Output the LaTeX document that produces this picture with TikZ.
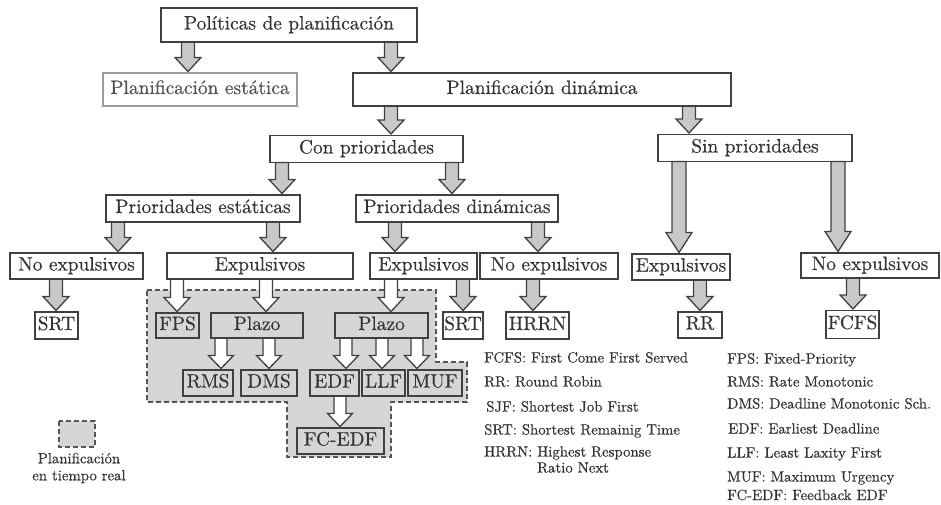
\documentclass[tikz,border=0pt]{standalone}
\usepackage{fontspec}
\setmainfont{lmroman10-regular}[Extension=.otf, Ligatures=TeX, FakeBold=0.4]
\usetikzlibrary{calc,backgrounds}

\definecolor{ink}{HTML}{333333}
\definecolor{edge}{HTML}{404040}
\definecolor{softedge}{HTML}{9C9C9C}
\definecolor{arrowfill}{HTML}{C8C8C8}
\definecolor{rtfill}{HTML}{D6D6D6}
\definecolor{dashedge}{HTML}{555555}

\newcommand\boxfont{\fontsize{19.4}{22}\selectfont\bfseries}
\newcommand\notefont{\fontsize{14.8}{17}\selectfont\bfseries}

\newdimen\headlen \headlen=14pt
\newdimen\shafthalf \shafthalf=6.5pt
\newdimen\headhalf \headhalf=13pt

% block arrow: #1 style, #2 x position, #3 source node, #4 target node
\newcommand\flowarrow[4]{%
  \draw[#1] let \p1=(#3.south), \p2=(#4.north) in
    ({#2pt-\shafthalf},\y1) -- ({#2pt-\shafthalf},{\y2+1.5pt+\headlen})
    -- ({#2pt-\headhalf},{\y2+1.5pt+\headlen}) -- ({#2pt},{\y2+1.5pt})
    -- ({#2pt+\headhalf},{\y2+1.5pt+\headlen}) -- ({#2pt+\shafthalf},{\y2+1.5pt+\headlen})
    -- ({#2pt+\shafthalf},\y1) -- cycle;}

\tikzset{
  box/.style={draw=edge, line width=1.5pt, text=ink, font=\boxfont,
    inner sep=0pt, outer sep=0pt, text height=13pt, text depth=4pt},
  softbox/.style={box, draw=softedge, line width=1.2pt, text=ink!85},
  rtbox/.style={box, line width=2.2pt},
  grayarrow/.style={draw=edge, line width=1.3pt, line join=miter, fill=arrowfill},
  whitearrow/.style={grayarrow, fill=white},
  rtzone/.style={fill=rtfill, draw=dashedge, line width=1.2pt, dash pattern=on 5pt off 3pt},
  note/.style={text=ink, font=\notefont, inner sep=0pt, anchor=base west},
}

\begin{document}
\begin{tikzpicture}[x=1pt,y=-1pt]
\useasboundingbox (0,0) rectangle (941,504);

% top levels
\node[box, minimum width=256, minimum height=34] (pol) at (289,25) {Políticas de planificación};
\node[softbox, minimum width=194, minimum height=33] (pest) at (200,89.5) {Planificación estática};
\node[box, minimum width=378, minimum height=33] (pdin) at (542,89.5) {Planificación dinámica};
\node[box, minimum width=193, minimum height=27] (con) at (366.5,149) {Con prioridades};
\node[box, minimum width=194, minimum height=27] (sin) at (755,148) {Sin prioridades};
\node[box, minimum width=194, minimum height=27] (prest) at (203,208.5) {Prioridades estáticas};
\node[box, minimum width=202, minimum height=27] (prdin) at (457,208.5) {Prioridades dinámicas};

% third level
\node[box, minimum width=133, minimum height=26] (noexpA) at (76.5,266) {No expulsivos};
\node[box, minimum width=186, minimum height=26] (expA) at (260,266) {Expulsivos};
\node[box, minimum width=107, minimum height=26] (expB) at (423.5,266) {Expulsivos};
\node[box, minimum width=138, minimum height=26] (noexpB) at (549,266) {No expulsivos};
\node[box, minimum width=98, minimum height=26] (expC) at (681,267) {Expulsivos};
\node[box, minimum width=138, minimum height=25] (noexpC) at (870,265.5) {No expulsivos};

% real-time zone
\begin{scope}[on background layer]
  \path[rtzone] (147,290) -- (436,290) -- (436,362) -- (467,362) -- (467,402)
    -- (391,402) -- (391,457) -- (287,457) -- (287,402) -- (147,402) -- cycle;
\end{scope}

% policies
\node[box, minimum width=43, minimum height=27] (srtA) at (56.5,325.5) {SRT};
\node[rtbox, minimum width=43, minimum height=25] (fps) at (177.5,325.5) {FPS};
\node[rtbox, minimum width=92, minimum height=25] (plazoA) at (257,325.5) {Plazo};
\node[rtbox, minimum width=93, minimum height=25] (plazoB) at (381.5,325.5) {Plazo};
\node[box, minimum width=40, minimum height=27] (srtB) at (463,325.5) {SRT};
\node[box, minimum width=63, minimum height=27] (hrrn) at (537.5,325.5) {HRRN};
\node[box, minimum width=44, minimum height=26] (rr) at (700,325) {RR};
\node[box, minimum width=53, minimum height=28] (fcfs) at (852.5,324.5) {FCFS};

\node[rtbox, minimum width=50, minimum height=26] (rms) at (208,383) {RMS};
\node[rtbox, minimum width=56, minimum height=26] (dms) at (269,383) {DMS};
\node[rtbox, minimum width=49, minimum height=26] (edf) at (334.5,383) {EDF};
\node[rtbox, minimum width=43, minimum height=26] (llf) at (383.5,383) {LLF};
\node[rtbox, minimum width=54, minimum height=26] (muf) at (435,383) {MUF};
\node[rtbox, minimum width=87, minimum height=26] (fcedf) at (340.5,441) {FC-EDF};

% connectors
\begin{scope}[on background layer]
  \flowarrow{grayarrow}{188}{pol}{pest}
  \flowarrow{grayarrow}{391}{pol}{pdin}
  \flowarrow{grayarrow}{391}{pdin}{con}
  \flowarrow{grayarrow}{689}{pdin}{sin}
  \flowarrow{grayarrow}{282}{con}{prest}
  \flowarrow{grayarrow}{452}{con}{prdin}
  \flowarrow{grayarrow}{118}{prest}{noexpA}
  \flowarrow{grayarrow}{273}{prest}{expA}
  \flowarrow{grayarrow}{395}{prdin}{expB}
  \flowarrow{grayarrow}{538}{prdin}{noexpB}
  \begin{scope}
    \headlen=20pt \shafthalf=7pt
    \flowarrow{grayarrow}{679}{sin}{expC}
    \flowarrow{grayarrow}{838}{sin}{noexpC}
  \end{scope}
  \flowarrow{grayarrow}{56}{noexpA}{srtA}
  \flowarrow{whitearrow}{177}{expA}{fps}
  \flowarrow{whitearrow}{266}{expA}{plazoA}
  \flowarrow{whitearrow}{391}{expB}{plazoB}
  \flowarrow{grayarrow}{463}{expB}{srtB}
  \flowarrow{grayarrow}{533}{noexpB}{hrrn}
  \flowarrow{grayarrow}{700}{expC}{rr}
  \flowarrow{grayarrow}{853}{noexpC}{fcfs}
  \begin{scope}
    \headlen=13pt \shafthalf=6pt \headhalf=12.5pt
    \flowarrow{whitearrow}{221}{plazoA}{rms}
    \flowarrow{whitearrow}{269}{plazoA}{dms}
    \flowarrow{whitearrow}{346}{plazoB}{edf}
    \flowarrow{whitearrow}{382}{plazoB}{llf}
    \flowarrow{whitearrow}{417}{plazoB}{muf}
    \flowarrow{whitearrow}{340}{edf}{fcedf}
  \end{scope}
\end{scope}

% key to the shaded zone
\path[rtzone] (59,421) rectangle (95,447);
\node[text=ink, font=\notefont, align=center, inner sep=0pt] (rtkey) at (79,468)
  {Planificación\\en tiempo real};

% abbreviations
\node[note] (nFCFS) at (484,362.5) {FCFS: First Come First Served};
\node[note] (nRR) at (484,386.5) {RR: Round Robin};
\node[note] (nSJF) at (486,411.5) {SJF: Shortest Job First};
\node[note] (nSRT) at (484,434.5) {SRT: Shortest Remainig Time};
\node[note] (nHRRN) at (484,456.5) {HRRN: Highest Response};
\node[note] (nHRRNb) at (537,472.5) {Ratio Next};

\node[note] (nFPS) at (727,363.5) {FPS: Fixed-Priority};
\node[note] (nRMS) at (727,386.5) {RMS: Rate Monotonic};
\node[note] (nDMS) at (727,408.5) {DMS: Deadline Monotonic Sch.};
\node[note] (nEDF) at (728,433.5) {EDF: Earliest Deadline};
\node[note] (nLLF) at (727,457.5) {LLF: Least Laxity First};
\node[note] (nMUF) at (727,481.5) {MUF: Maximum Urgency};
\node[note] (nFCEDF) at (727,500) {FC-EDF: Feedback EDF};
\end{tikzpicture}
\end{document}
